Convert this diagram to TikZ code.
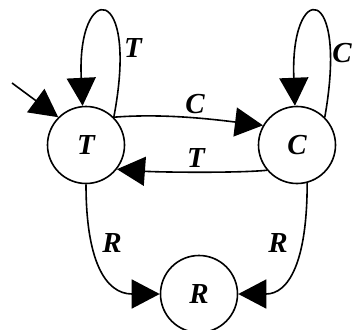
\documentclass[tikz,border=0pt]{standalone}
\usepackage{fontspec}
\setmainfont{Liberation Serif}
\usetikzlibrary{arrows.meta}
\newcommand\statefont{\fontsize{29}{33}\selectfont\bfseries\itshape}
\begin{document}
\begin{tikzpicture}[x=1pt,y=-1pt,
  state/.style={draw, circle, line width=1.6pt, minimum size=77pt, inner sep=0pt, font=\statefont},
  edge/.style={line width=1.6pt, -{Triangle[length=28pt,width=29pt]}},
  lab/.style={font=\statefont, inner sep=0pt}]
\useasboundingbox (0,0) rectangle (353,329);
\node[state] (T) at (86,145) {T};
\node[state] (C) at (297,145) {C};
\node[state] (R) at (199,294) {R};
\coordinate (init) at (12,83);
\draw[edge] (init) -- (T.135);
\draw[edge] (T.45) .. controls +(26,-136) and +(-6,-125) .. (T.95) node[lab] at (133,48) {T};
\draw[edge] (C.45) .. controls +(24,-136) and +(-5,-125) .. (C.93) node[lab] at (342,53) {C};
\draw[edge] (T.45) .. controls +(50,-4) and +(-50,-6) .. (C.150) node[lab] at (195,104) {C};
\draw[edge] (C.220) .. controls +(-30,3) and +(40,3) .. (T.-38) node[lab] at (196,158) {T};
\draw[edge] (T.south) .. controls +(0,75) and +(-55,0) .. (R.west) node[lab] at (112,243) {R};
\draw[edge] (C.-75) .. controls +(0,80) and +(50,0) .. (R.east) node[lab] at (278,243) {R};
\end{tikzpicture}
\end{document}
